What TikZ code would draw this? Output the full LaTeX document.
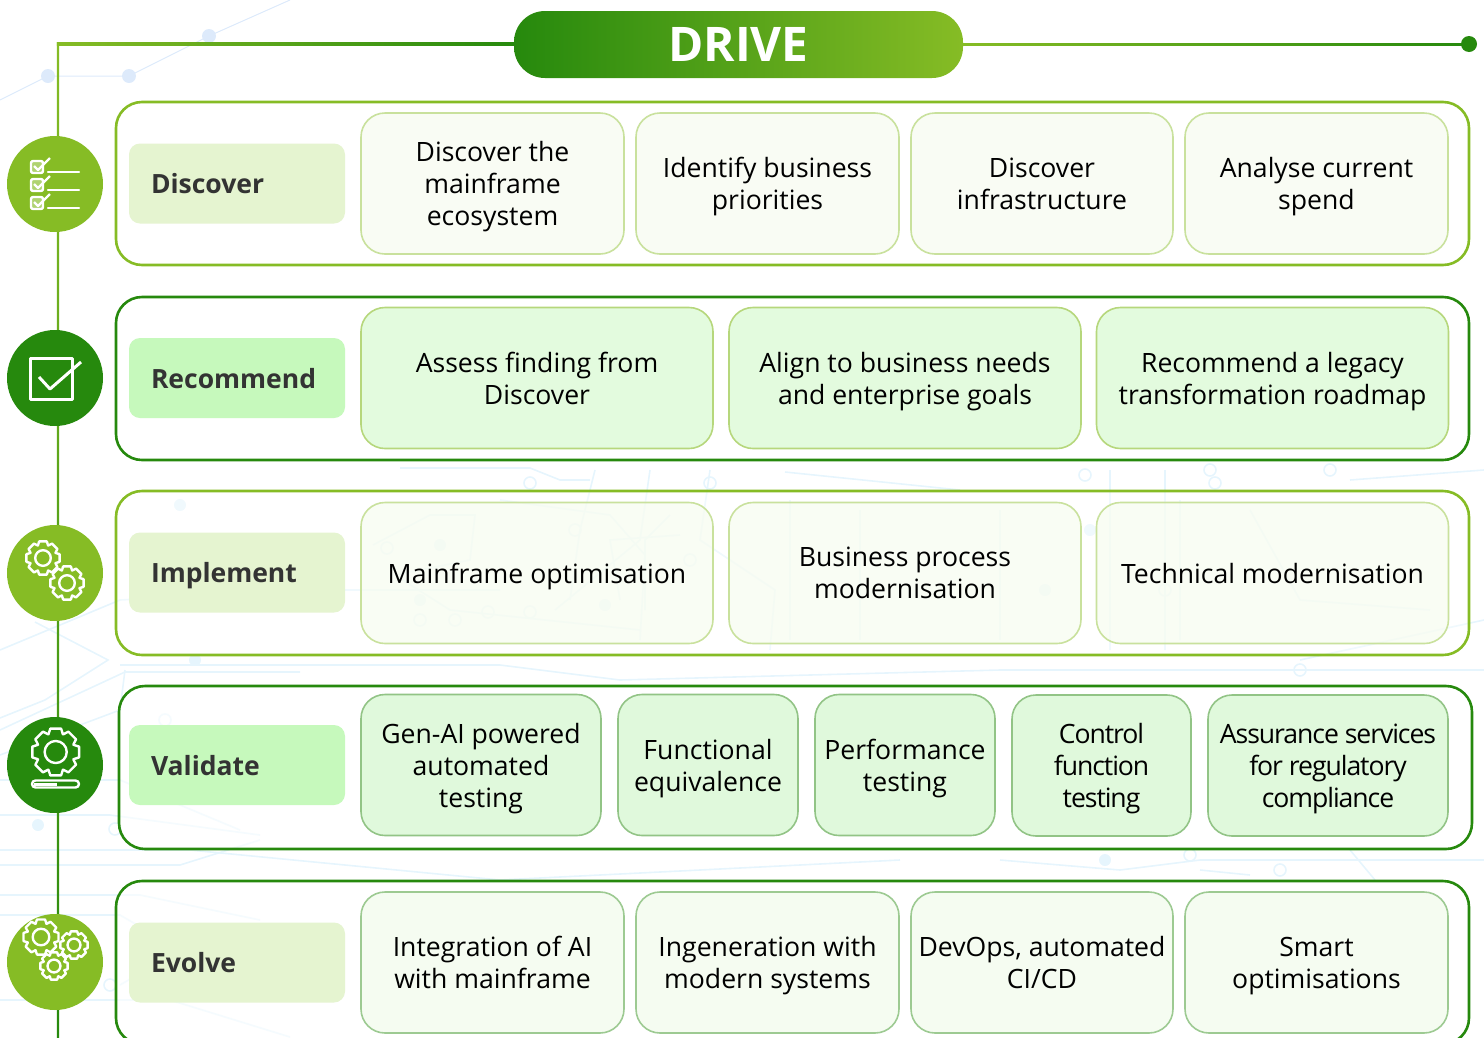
\documentclass[tikz,border=0pt]{standalone}
\usepackage{fontspec}
\setmainfont{Open Sans}
\newfontfamily\tightfont[LetterSpace=-4]{Open Sans}
\usetikzlibrary{calc}

\definecolor{leaf}{HTML}{86BC25}
\definecolor{forest}{HTML}{26890D}
\definecolor{tagleaf}{HTML}{E5F4D0}
\definecolor{tagforest}{HTML}{C6F9BC}
\definecolor{inktext}{HTML}{333333}
\definecolor{tracecol}{HTML}{E6F5FD}
\definecolor{dotcol}{HTML}{DDEAFB}
\definecolor{fillthin}{HTML}{F7FCF0}
\definecolor{filldark}{HTML}{E3FBDE}
\definecolor{fillgreen}{HTML}{E0F9DC}
\definecolor{fillpale}{HTML}{F5FCF1}

\tikzstyle{stage}=[draw, line width=2.6, rounded corners=26, fill=white, draw opacity=1]
\tikzstyle{tag}=[rounded corners=11, text depth=0pt, minimum width=216, minimum height=80, inner sep=0, outer sep=0, anchor=west, text width=172, inner xsep=22, align=left, text=inktext, font=\fontsize{26.5}{32}\selectfont\bfseries]
\tikzstyle{card}=[draw, text depth=0pt, line width=1.6, rounded corners=24, minimum height=141, inner sep=0, outer sep=0, align=center, text=black, font=\fontsize{26.6}{32}\selectfont, text opacity=1]
\tikzstyle{cardthin}=[card, draw=leaf!45, fill=fillthin, fill opacity=0.7, draw opacity=1]
\tikzstyle{carddark}=[card, draw=leaf!60, fill=filldark]
\tikzstyle{cardgreen}=[card, draw=forest!50, fill=fillgreen]
\tikzstyle{cardpale}=[card, draw=forest!45, fill=fillpale]
\tikzstyle{badge}=[circle, minimum size=96, inner sep=0, outer sep=0]
\tikzstyle{iconline}=[draw=white, line width=2.4, line join=round]
\tikzstyle{trace}=[draw=tracecol, line width=1.6]

\newcommand{\gearicon}[3]{
  \begin{scope}[shift={(#1,#2)}]
    \draw[iconline] (-22:{0.8*#3}) \foreach \a in {0,45,...,315} {
      -- ({\a-22}:{0.8*#3}) -- ({\a-13}:#3) -- ({\a+13}:#3) -- ({\a+22}:{0.8*#3}) } -- cycle;
    \draw[iconline] (0,0) circle ({0.46*#3});
  \end{scope}
}
\newcommand{\tickbox}[2]{
  \draw[iconline, fill=white, fill opacity=0.35, rounded corners=2] (#1,#2) rectangle ++(12,12);
  \draw[iconline] (#1+3,#2+5) -- (#1+7,#2+9) -- (#1+19,#2-3);
}

\begin{document}
\begin{tikzpicture}[x=1pt, y=-1pt]
  \useasboundingbox (0,0) rectangle (1484,1037);
  \clip (0,0) rectangle (1484,1037);

  % faint circuit background
  \draw[draw=dotcol, line width=1] (0,100) -- (48,76) -- (129,76) -- (209,36) -- (290,0);
  \fill[dotcol] (48,76) circle (7) (129,76) circle (7) (209,36) circle (7);
  \draw[trace] (35,622) -- (108,660) -- (45,700) -- (0,718);
  \draw[trace] (0,650) -- (60,625) -- (120,600) -- (300,590) -- (500,590);
  \draw[trace] (0,730) -- (125,672) -- (300,672);
  \draw[trace] (0,755) -- (120,710) -- (125,670);
  \draw[trace] (0,780) -- (120,780) -- (240,830);
  \draw[trace] (0,815) -- (110,815) -- (260,835);
  \draw[trace] (0,850) -- (190,850) -- (500,880) -- (900,860);
  \draw[trace] (0,865) -- (180,865) -- (260,840);
  \draw[trace] (0,895) -- (140,895) -- (260,920);
  \draw[trace] (0,915) -- (120,915) -- (180,950) -- (120,985);
  \draw[trace] (0,1000) -- (170,1000) -- (290,1037);
  \draw[trace] (120,665) -- (500,665) -- (620,680) -- (1000,670) -- (1484,670);
  \draw[trace] (400,468) -- (530,468) -- (560,480) -- (590,480);
  \draw[trace] (595,470) -- (580,530) -- (570,600) (650,470) -- (640,540) -- (555,610);
  \draw[trace] (710,470) -- (700,540) -- (775,590) -- (770,650);
  \draw[trace] (785,472) -- (960,490) (1110,470) -- (1110,650) (1165,470) -- (1165,650);
  \draw[trace] (373,545) -- (430,515) -- (475,515) -- (470,560) -- (395,575) -- (450,610) -- (640,630);
  \draw[trace] (500,500) -- (610,515) -- (645,555) -- (640,640);
  \draw[trace] (670,515) -- (645,540) -- (645,610);
  \draw[trace] (680,535) -- (610,540) -- (620,600);
  \draw[trace] (790,500) -- (790,640) (860,510) -- (860,640) (1000,510) -- (1000,640);
  \draw[trace] (1180,500) -- (1180,640) (1250,510) -- (1300,600) -- (1430,610);
  \draw[trace] (1000,860) -- (1120,870) -- (1200,860) -- (1484,860);
  \draw[trace] (1300,660) -- (1484,620) (1350,480) -- (1484,470);
  \draw[trace] (1200,870) -- (1250,875) (1350,850) -- (1375,880);
  \foreach \cx/\cy in {165/720, 115/829, 110/985, 530/483, 710/483, 1085/475, 1215/483, 1330/470, 1300/670, 1190/855, 1280/870, 387/548, 455/620, 488/612, 420/620, 530/612, 575/530, 690/560, 1165/590, 1210/470}
    \draw[trace] (\cx,\cy) circle (6);
  \foreach \cx/\cy in {38/825, 180/505, 440/545, 420/600, 605/605, 1090/530, 1105/860, 1045/590, 195/660}
    \fill[tracecol] (\cx,\cy) circle (6);

  % spine
  \coordinate (corner) at (58,44);
  \coordinate (foot) at (58,1037);
  \coordinate (tip) at (1469,44);
  \node[rounded corners=31, minimum width=449, minimum height=67, inner sep=0, outer sep=0, left color=forest, middle color=forest!70!leaf, right color=leaf, text=white, font=\fontsize{47.7}{50}\selectfont\bfseries] (drive) at (738.5,44.5) {DRIVE};
  \shade[left color=leaf, right color=forest] ($(corner)+(-1.1,-1.1)$) rectangle ($(drive.west)+(0,1.1)$);
  \shade[left color=leaf, right color=forest] ($(drive.east)+(0,-1.1)$) rectangle ($(tip)+(0,1.1)$);
  \shade[top color=leaf, middle color=leaf!62!forest, bottom color=forest] ($(corner)+(-1.1,-1.1)$) rectangle ($(foot)+(1.1,0)$);
  \node[circle, fill=forest, minimum size=16, inner sep=0] (dot) at (tip) {};

  % discover
  \draw[stage, draw=leaf, fill opacity=0.9] (116,102) rectangle (1469,265);
  \node[badge, fill=leaf] (discoverbadge) at (55,184) {};
  \node[tag, fill=tagleaf] (discover) at (129,183.5) {Discover};
  \node[cardthin, minimum width=263] (mainframe) at (492.5,183.5) {Discover the\\mainframe\\ecosystem};
  \node[cardthin, minimum width=263] (priorities) at (767.5,183.5) {Identify business\\priorities};
  \node[cardthin, minimum width=262] (infra) at (1042,183.5) {Discover\\infrastructure};
  \node[cardthin, minimum width=263] (spend) at (1316.5,183.5) {Analyse current\\spend};
  \tickbox{31}{161}
  \tickbox{31}{179}
  \tickbox{31}{197}
  \draw[iconline, line cap=round] (48,172) -- (79,172) (48,190) -- (79,190) (48,208) -- (79,208);

  % recommend
  \draw[stage, draw=forest, fill opacity=0.85] (116,297) rectangle (1469,460);
  \node[badge, fill=forest] (recommendbadge) at (55,378) {};
  \node[tag, fill=tagforest] (recommend) at (129,378) {Recommend};
  \node[carddark, minimum width=352] (assess) at (537,378) {Assess finding from\\Discover};
  \node[carddark, minimum width=352] (align) at (905,378) {Align to business needs\\and enterprise goals};
  \node[carddark, minimum width=352] (roadmap) at (1272.5,378) {Recommend a legacy\\transformation roadmap};
  \draw[iconline, line width=3] (30,358) rectangle (72,399);
  \draw[iconline, line width=3] (39,377) -- (50,389) -- (81,362);

  % implement
  \draw[stage, draw=leaf, fill opacity=0.4] (116,491) rectangle (1469,655);
  \node[badge, fill=leaf] (implementbadge) at (55,573) {};
  \node[tag, fill=tagleaf] (implement) at (129,572.5) {Implement};
  \node[cardthin, minimum width=352] (optimise) at (537,573) {Mainframe optimisation};
  \node[cardthin, minimum width=352] (process) at (905,573) {Business process\\modernisation};
  \node[cardthin, minimum width=352] (technical) at (1272.5,573) {Technical modernisation};
  \gearicon{43}{558}{17}
  \gearicon{67}{583}{17}

  % validate
  \draw[stage, draw=forest, fill opacity=0.6] (119,686) rectangle (1472,849);
  \node[badge, fill=forest] (validatebadge) at (55,765) {};
  \node[tag, fill=tagforest] (validate) at (129,765) {Validate};
  \node[cardgreen, minimum width=240] (genai) at (481,765) {Gen-AI powered\\automated\\testing};
  \node[cardgreen, minimum width=180] (equivalence) at (708,765) {Functional\\equivalence};
  \node[cardgreen, minimum width=180] (performance) at (905,765) {Performance\\testing};
  \node[cardgreen, minimum width=179, font=\fontsize{26.6}{32}\tightfont] (control) at (1101.5,765.5) {Control\\function\\testing};
  \node[cardgreen, minimum width=240, font=\fontsize{26.6}{32}\tightfont] (assurance) at (1328,765.5) {Assurance services\\for regulatory\\compliance};
  \gearicon{55.7}{752}{24}
  \draw[iconline, rounded corners=3.5] (32,780.5) rectangle (79,787.5);
  \fill[white] (34,782.5) rectangle (57,785.5);

  % evolve
  \draw[stage, draw=forest, fill opacity=0.6] (116,881) rectangle (1469,1044);
  \node[badge, fill=leaf] (evolvebadge) at (55,962) {};
  \node[tag, fill=tagleaf] (evolve) at (129,962.5) {Evolve};
  \node[cardpale, minimum width=263] (integration) at (492.5,962.5) {Integration of AI\\with mainframe};
  \node[cardpale, minimum width=263] (ingeneration) at (767.5,962.5) {Ingeneration with\\modern systems};
  \node[cardpale, minimum width=262] (devops) at (1042,962.5) {DevOps, automated\\CI/CD};
  \node[cardpale, minimum width=263] (smart) at (1316.5,962.5) {Smart\\optimisations};
  \gearicon{41}{937}{18}
  \gearicon{74}{945}{14}
  \gearicon{54}{966}{14}
\end{tikzpicture}
\end{document}
